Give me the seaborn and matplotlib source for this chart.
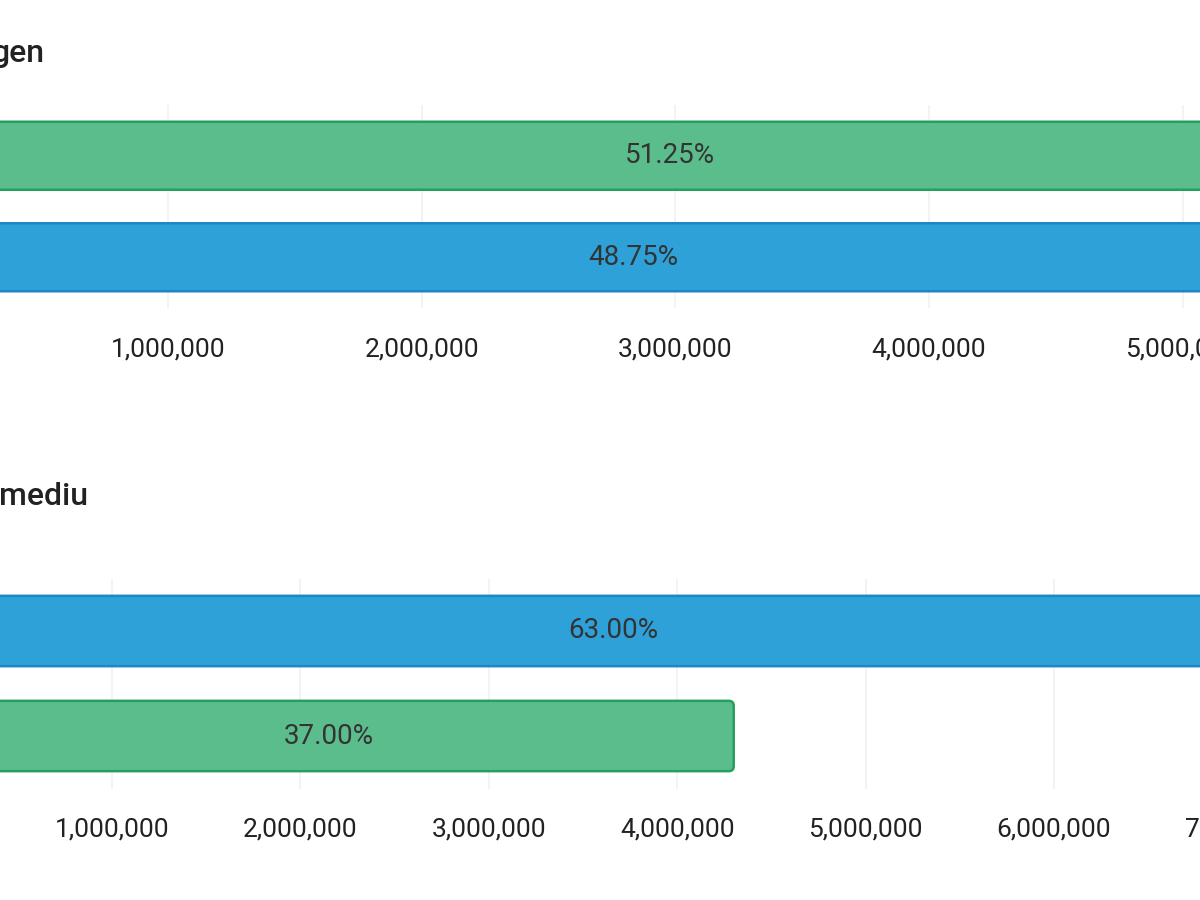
import matplotlib
matplotlib.use("Agg")
import matplotlib.pyplot as plt
import matplotlib.ticker as mticker
from matplotlib.patches import FancyBboxPatch
import seaborn as sns

# top panel (title cut off: "...gen")
top_title = "gen"
top_groups = ["groep 1", "groep 2"]
top_values = [5955000, 5665000]
top_pct = [51.25, 48.75]
top_colors = ["#5cbd8c", "#2fa1d9"]
top_edges = ["#23a05f", "#1d86c4"]

# bottom panel (title cut off: "...mediu")
bottom_title = "mediu"
bottom_groups = ["groep 1", "groep 2"]
bottom_values = [7320000, 4300000]
bottom_pct = [63.00, 37.00]
bottom_colors = ["#2fa1d9", "#5cbd8c"]
bottom_edges = ["#1d86c4", "#23a05f"]

sns.set_theme(style="white")
plt.rcParams["font.family"] = ["Roboto", "DejaVu Sans"]

W, H = 1200, 900
fig = plt.figure(figsize=(12, 9), dpi=100)


def tick_fmt(v, _):
    return "" if v == 0 else f"{v:,.0f}"


def panel(zero_px, px_per_m, top_px, bottom_px, xmax, groups, values, pct,
          colors, edges, title, title_x, title_y):
    width_px = xmax / 1e6 * px_per_m
    ax = fig.add_axes([zero_px / W, 1 - bottom_px / H, width_px / W,
                       (bottom_px - top_px) / H])
    sns.barplot(x=values, y=groups, hue=groups, palette=colors, orient="h",
                width=0.67, saturation=1, legend=False, ax=ax, zorder=2)

    # swap the plain rectangles for slightly rounded ones
    x_per_px = 1e6 / px_per_m
    y_per_px = 2.0 / (bottom_px - top_px)
    bars = list(ax.patches)
    for p, ec in zip(bars, edges):
        rb = FancyBboxPatch((p.get_x(), p.get_y()), p.get_width(), p.get_height(),
                            boxstyle=f"round,pad=0,rounding_size={5 * x_per_px}",
                            mutation_aspect=y_per_px / x_per_px,
                            facecolor=p.get_facecolor(), edgecolor=ec,
                            linewidth=1.8, zorder=2)
        p.remove()
        ax.add_patch(rb)

    ax.set_xlim(0, xmax)
    ax.set_ylim(1.5, -0.5)
    ax.xaxis.set_major_locator(mticker.MultipleLocator(1e6))
    ax.xaxis.set_major_formatter(mticker.FuncFormatter(tick_fmt))
    ax.grid(axis="x", color="#f1f1f1", linewidth=1.2, zorder=0)
    ax.set_axisbelow(True)
    ax.tick_params(axis="x", length=0, pad=21, labelsize=19, labelcolor="#222222")
    ax.set_yticks([])
    ax.set_xlabel("")
    ax.set_ylabel("")
    for s in ax.spines.values():
        s.set_visible(False)
    for i, (v, pc) in enumerate(zip(values, pct)):
        ax.text(v / 2, i, f"{pc:.2f}%", ha="center", va="center",
                fontsize=20, color="#333333", zorder=3)
    fig.text(title_x / W, 1 - title_y / H, title, ha="right", va="baseline",
             fontsize=23, fontweight="medium", color="#222222")
    return ax


panel(-85.7, 253.67, 105, 308, 6.5e6, top_groups, top_values, top_pct,
      top_colors, top_edges, top_title, 45, 62)
panel(-76.4, 188.4, 578.5, 788.5, 8e6, bottom_groups, bottom_values, bottom_pct,
      bottom_colors, bottom_edges, bottom_title, 88, 505)

fig.savefig("out.png", dpi=100)
